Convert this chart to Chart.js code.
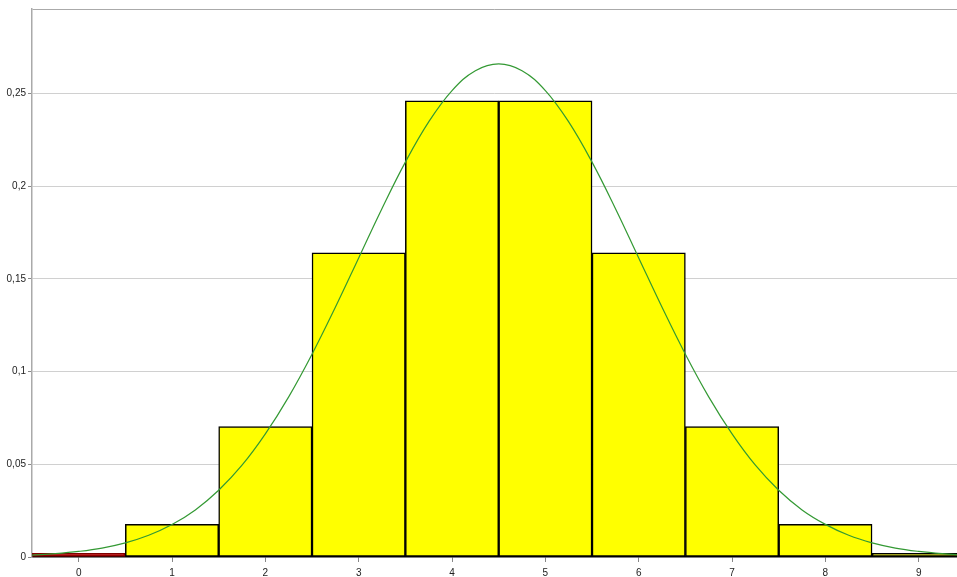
<!DOCTYPE html>
<html>
<head>
<meta charset="utf-8">
<script src="https://cdn.jsdelivr.net/npm/chart.js@4"></script>
<style>
  html, body { margin: 0; padding: 0; background: #fff; }
  #wrap { width: 957px; height: 577px; }
</style>
</head>
<body>
<div id="wrap"><canvas id="distChart" width="957" height="577"></canvas></div>
<script>
// bars: binomial probabilities
const categories = [0, 1, 2, 3, 4, 5, 6, 7, 8, 9];
const barValues = [0.002, 0.0176, 0.0703, 0.1641, 0.2461, 0.2461, 0.1641, 0.0703, 0.0176, 0.002];
const barColors = ["#cc0000", "#ffff00", "#ffff00", "#ffff00", "#ffff00", "#ffff00", "#ffff00", "#ffff00", "#ffff00", "#ffff00"];

// green curve, read at quarter steps
const curveX = [-0.5, -0.25, 0, 0.25, 0.5, 0.75, 1, 1.25, 1.5, 1.75, 2, 2.25, 2.5, 2.75, 3, 3.25, 3.5, 3.75, 4, 4.25, 4.5,
                4.75, 5, 5.25, 5.5, 5.75, 6, 6.25, 6.5, 6.75, 7, 7.25, 7.5, 7.75, 8, 8.25, 8.5, 8.75, 9, 9.25, 9.5];
const curveY = [0.001, 0.0018, 0.003, 0.0048, 0.0076, 0.0117, 0.0175, 0.0254, 0.036, 0.0495, 0.0664, 0.0864, 0.1094, 0.1347, 0.1613, 0.188, 0.213, 0.2347, 0.2516, 0.2623, 0.266,
                0.2623, 0.2516, 0.2347, 0.213, 0.188, 0.1613, 0.1347, 0.1094, 0.0864, 0.0664, 0.0495, 0.036, 0.0254, 0.0176, 0.0117, 0.0076, 0.0048, 0.003, 0.0018, 0.001];

const yTicks = [0, 0.05, 0.1, 0.15, 0.2, 0.25];
const yMax = 0.2956;

const ctx = document.getElementById("distChart").getContext("2d");
const myChart = new Chart(ctx, {
    data: {
        datasets: [
            {
                type: "line",
                data: curveX.map((x, i) => ({ x: x, y: curveY[i] })),
                borderColor: "#339933",
                borderWidth: 1.2,
                pointRadius: 0,
                tension: 0.4,
                fill: false,
                order: 0,
            },
            {
                type: "bar",
                data: categories.map((c, i) => ({ x: c, y: barValues[i] })),
                backgroundColor: barColors,
                borderColor: barColors.map(c => c === "#cc0000" ? "#800000" : "#000000"),
                borderWidth: 1.5,
                borderSkipped: false,
                barPercentage: 1,
                categoryPercentage: 1,
                order: 1,
            },
        ],
    },
    options: {
        responsive: false,
        animation: false,
        layout: { padding: { top: 9, right: 0, left: 0, bottom: 0 } },
        plugins: { legend: { display: false }, tooltip: { enabled: false } },
        scales: {
            x: {
                type: "linear",
                min: -0.5,
                max: 9.41,
                offset: false,
                afterBuildTicks: scale => { scale.ticks = categories.map(v => ({ value: v })); },
                afterFit: scale => { scale.height = 20; },
                grid: { offset: false, drawOnChartArea: false, drawTicks: true, tickLength: 5, color: "#888" },
                border: { color: "#000", width: 1.5 },
                ticks: {
                    color: "#222",
                    font: { family: "Liberation Sans", size: 10 },
                    padding: 5,
                    maxRotation: 0,
                },
            },
            y: {
                min: 0,
                max: yMax,
                afterBuildTicks: scale => { scale.ticks = yTicks.concat([yMax]).map(v => ({ value: v })); },
                afterFit: scale => { scale.width = 32; },
                grid: {
                    color: ctx => ctx.tick && ctx.tick.value === yMax ? "#aaa" : (ctx.tick && ctx.tick.value === 0 ? "rgba(0,0,0,0)" : "#d0d0d0"),
                    tickColor: ctx => ctx.tick && ctx.tick.value === yMax ? "rgba(0,0,0,0)" : "#888",
                    tickLength: 4,
                },
                border: { color: "#aaa", width: 1.5 },
                ticks: {
                    color: "#222",
                    font: { family: "Liberation Sans", size: 10 },
                    padding: 2,
                    callback: v => v === yMax ? "" : String(v).replace(".", ","),
                },
            },
        },
    },
});
</script>
</body>
</html>
